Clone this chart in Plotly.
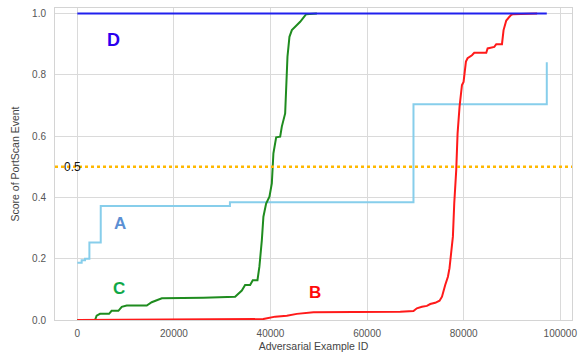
import plotly.graph_objects as go

# Curve A: step-shaped score (x = example id, y = score)
a_x = [0, 900, 1600, 2500, 4850, 31600, 69600, 97200]
a_y = [0.187, 0.195, 0.20, 0.253, 0.372, 0.384, 0.704, 0.841]

# Curve B
b_x = [0, 38500, 40960, 43380, 45450, 46490, 48890, 57180, 62700, 66850, 69600,
       70300, 71350, 72380, 73070, 74100, 75000, 75500, 76170, 76730, 77060,
       77350, 77760, 78040, 78450, 78730, 79140, 79640, 79970, 80460, 80800,
       81710, 82180, 84670, 84950, 86330, 86740, 87920, 88250, 88810, 89780,
       90200, 95200]
b_y = [0.0, 0.003, 0.011, 0.014, 0.020, 0.022, 0.025, 0.026, 0.026, 0.027, 0.029,
       0.038, 0.043, 0.046, 0.052, 0.056, 0.063, 0.076, 0.114, 0.141, 0.169,
       0.212, 0.272, 0.381, 0.489, 0.609, 0.696, 0.767, 0.777, 0.843, 0.854,
       0.864, 0.872, 0.872, 0.886, 0.891, 0.900, 0.900, 0.946, 0.977, 0.995,
       0.998, 1.0]

# Curve C
c_x = [0, 3670, 4000, 4700, 6570, 7100, 8500, 9200, 10230, 14380, 15400, 17500,
       26100, 32670, 34060, 34740, 35780, 36330, 37300, 37700, 38200, 38530,
       39090, 39780, 40270, 40600, 41170, 42000, 42340, 43030, 43510, 43920,
       44420, 45450, 46140, 47380, 49600]
c_y = [0.0, 0.0, 0.014, 0.020, 0.020, 0.030, 0.030, 0.043, 0.047, 0.047, 0.058,
       0.071, 0.073, 0.076, 0.096, 0.114, 0.114, 0.130, 0.130, 0.174, 0.260,
       0.337, 0.380, 0.402, 0.446, 0.544, 0.596, 0.598, 0.631, 0.674, 0.859,
       0.924, 0.946, 0.962, 0.973, 0.998, 1.0]

# Curve D
d_x = [0, 97200]
d_y = [1.0, 1.0]

threshold = 0.5

x_ticks = [0, 20000, 40000, 60000, 80000, 100000]
y_ticks = [0.0, 0.2, 0.4, 0.6, 0.8, 1.0]

FONT = "Liberation Sans, Arial, sans-serif"

fig = go.Figure()

fig.add_trace(go.Scatter(x=a_x, y=a_y, mode="lines", line_shape="hv",
                         line=dict(color="#87CEEB", width=2)))
fig.add_trace(go.Scatter(x=c_x, y=c_y, mode="lines",
                         line=dict(color="#1f8c1f", width=2)))
fig.add_trace(go.Scatter(x=b_x, y=b_y, mode="lines",
                         line=dict(color="#ff1a1a", width=2)))
fig.add_trace(go.Scatter(x=d_x, y=d_y, mode="lines",
                         line=dict(color="#2020ee", width=2)))

# threshold line
fig.add_hline(y=threshold, line=dict(color="#FFB800", width=2.5, dash="dot"))

annotations = [
    dict(x=7500, y=0.914, text="<b>D</b>", font=dict(color="#2a00ee", size=18)),
    dict(x=8800, y=0.315, text="<b>A</b>", font=dict(color="#5b8fd3", size=17)),
    dict(x=8700, y=0.104, text="<b>C</b>", font=dict(color="#10a848", size=17)),
    dict(x=49200, y=0.089, text="<b>B</b>", font=dict(color="#ff0a0a", size=17)),
    dict(x=-1100, y=threshold, text="0.5", font=dict(color="#111111", size=12)),
]
for a in annotations:
    a.update(showarrow=False, xref="x", yref="y",
             font=dict(family=FONT, **a["font"]))
fig.update_layout(annotations=annotations)

axis_common = dict(
    showgrid=True, gridcolor="#dadada", gridwidth=1,
    showline=True, linecolor="#d4d4d4", linewidth=1, mirror=True,
    zeroline=False, ticks="",
    tickfont=dict(family=FONT, size=10, color="#555555"),
)

fig.update_xaxes(range=[-4620, 102420], tickvals=x_ticks,
                 ticktext=[str(v) for v in x_ticks], ticklabelstandoff=4,
                 title=dict(text="Adversarial Example ID", standoff=4,
                            font=dict(family=FONT, size=10.5, color="#444444")),
                 **axis_common)
fig.update_yaxes(range=[0, 1.018], tickvals=y_ticks,
                 ticktext=[f"{v:.1f}" for v in y_ticks], ticklabelstandoff=6,
                 title=dict(text="Score of PortScan Event", standoff=10,
                            font=dict(family=FONT, size=10.5, color="#444444")),
                 **axis_common)

fig.update_layout(
    width=580, height=352,
    margin=dict(l=55, r=8, t=8, b=32, autoexpand=False),
    paper_bgcolor="white", plot_bgcolor="white",
    showlegend=False,
)

fig.write_html("out.html")
